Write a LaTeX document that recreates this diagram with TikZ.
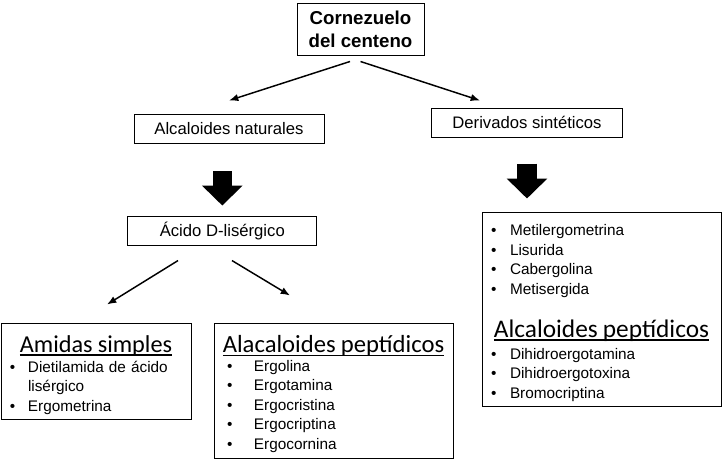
\documentclass[tikz,border=0pt]{standalone}
\usepackage{fontspec}
\setmainfont{Liberation Sans}
\newfontfamily\cabfont{Carlito}
\usetikzlibrary{arrows.meta,calc}

\newlength\sangria
\newlength\subrlen
\newcommand\subr[1]{\settowidth\subrlen{#1}\rlap{\rule[-2.8pt]{\subrlen}{1.1pt}}#1}
\newcommand\punto{\par\noindent\hangindent=\sangria\hangafter=1\makebox[\sangria][l]{\textbullet}}
% heading: [size]{strut height}{text}
\newcommand\encab[3][19]{{\fontsize{#1}{22}\selectfont\cabfont\noindent\makebox[\linewidth]{\rule{0pt}{#2}\subr{#3}}\par}}

\tikzset{
    %Define standard arrow tip
    >={Latex[length=7pt,width=5.5pt]},
    %Define style for boxes
    caja/.style={
           rectangle,
           draw=black, line width=0.75pt,
           minimum height=21.75pt,
           font=\fontsize{12.5}{15}\selectfont,
           text centered},
    %Define style for list boxes
    lista/.style={
           rectangle,
           draw=black, line width=0.75pt,
           align=left,
           inner ysep=2pt,
           font=\fontsize{11.5}{14.6}\selectfont},
    % Define arrow style
    flecha/.style={
           ->,
           line width=1.1pt},
    % Define big arrow style
    flechagorda/.style={
           line width=14.7pt,
           -{Triangle[length=15pt,width=29.7pt]}}
}

\begin{document}
\begin{tikzpicture}[x=0.75pt, y=-0.75pt]
     \useasboundingbox (0,0) rectangle (722,461);
     \node[caja, minimum width=95.25pt, minimum height=39pt, align=center,
       font=\fontsize{14}{17}\selectfont\bfseries] (corn) at (360.5,29) {Cornezuelo\\del centeno};
     \node[caja, minimum width=142.5pt] (nat) at (229,128.5) {Alcaloides naturales};
     \node[caja, minimum width=143.25pt] (der) at (527,122.5) {Derivados sintéticos};
     \node[caja, minimum width=142pt, minimum height=21.4pt] (acido) at (222.3,230.8) {Ácido D-lisérgico};
     \node[lista, minimum width=142.5pt, minimum height=72pt, text width=129pt, inner xsep=6.75pt] (amidas) at (96,371)
       {\setlength\sangria{13.5pt}\encab[18.2]{18.4pt}{Amidas simples}\vspace{0.7pt}%
        \punto Dietilamida de ácido\newline lisérgico\punto Ergometrina};
     \node[lista, minimum width=179.25pt, minimum height=101.25pt, text width=159.75pt, inner xsep=9.75pt] (alac) at (333.5,390.5)
       {\setlength\sangria{20.25pt}\encab[18.5]{17.8pt}{Alacaloides peptídicos}\vspace{-0.2pt}%
        \punto Ergolina\punto Ergotamina\punto Ergocristina\punto Ergocriptina\punto Ergocornina};
     \node[lista, minimum width=179.25pt, minimum height=145.5pt, text width=165.75pt, inner xsep=6.75pt] (sint) at (601.5,309)
       {\setlength\sangria{14.25pt}%
        \punto Metilergometrina\punto Lisurida\punto Cabergolina\punto Metisergida\par\vspace{10pt}%
        \encab{0pt}{Alcaloides peptídicos}\vspace{2.2pt}%
        \punto Dihidroergotamina\punto Dihidroergotoxina\punto Bromocriptina};

     \draw[flecha] ($(corn.south)+(-10.5,6)$) -- ($(nat.north)+(0,-13)$);
     \draw[flecha] ($(corn.south)+(0,6)$) -- ($(der.north)+(-47,-7)$);
     \draw[flechagorda] ($(nat.south -| acido.north)+(0,27.7)$) -- ($(acido.north)+(0,-10.5)$);
     \draw[flechagorda] ($(der.south)+(0,26)$) -- ($(sint.north -| der.south)+(0,-13)$);
     \draw[flecha] ($(acido.south)+(-44.3,15)$) -- ($(amidas.north)+(11,-18)$);
     \draw[flecha] ($(acido.south)+(9.7,15)$) -- ($(alac.north)+(-43.5,-27)$);
\end{tikzpicture}
\end{document}
